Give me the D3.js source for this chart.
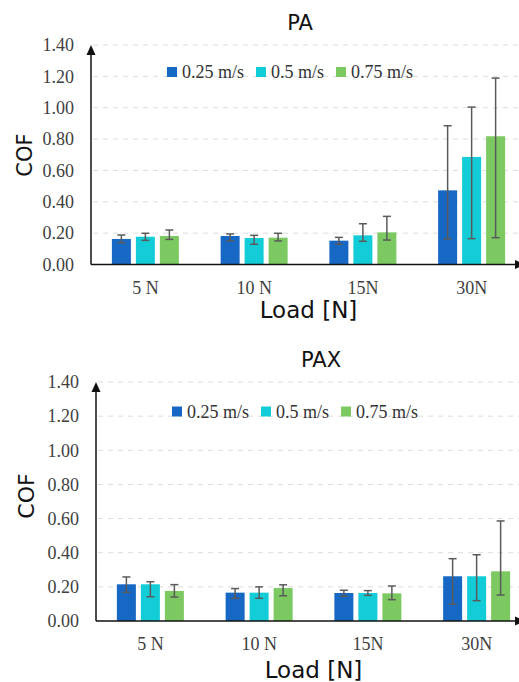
<!DOCTYPE html>
<html>
<head>
<meta charset="utf-8">
<script src="https://cdn.jsdelivr.net/npm/d3@7"></script>
<style>
  body { margin: 0; background: #fff; }
  svg { display: block; }
</style>
</head>
<body>
<div id="chart"></div>
<script>
// COF vs load, two materials (PA, PAX), three sliding speeds

const width = 519;
const height = 682;

const loads = ['5 N', '10 N', '15N', '30N'];
const speeds = ['0.25 m/s', '0.5 m/s', '0.75 m/s'];
const speedColors = ['#1768c4', '#12cdd7', '#7cc962'];
const yTicks = [0, 0.2, 0.4, 0.6, 0.8, 1.0, 1.2, 1.4];

// per load: [0.25, 0.5, 0.75 m/s]
const paMean = [
    [0.163, 0.177, 0.182],
    [0.182, 0.169, 0.171],
    [0.152, 0.186, 0.205],
    [0.473, 0.686, 0.818]
];
const paHigh = [
    [0.188, 0.199, 0.220],
    [0.195, 0.186, 0.199],
    [0.173, 0.260, 0.307],
    [0.885, 1.004, 1.189]
];
const paLow = [
    [0.139, 0.154, 0.160],
    [0.152, 0.129, 0.150],
    [0.129, 0.148, 0.156],
    [0.163, 0.165, 0.171]
];

const paxMean = [
    [0.215, 0.215, 0.176],
    [0.166, 0.166, 0.193],
    [0.164, 0.164, 0.162],
    [0.262, 0.262, 0.291]
];
const paxHigh = [
    [0.258, 0.230, 0.213],
    [0.190, 0.200, 0.212],
    [0.180, 0.178, 0.205],
    [0.365, 0.388, 0.586]
];
const paxLow = [
    [0.168, 0.142, 0.140],
    [0.133, 0.133, 0.148],
    [0.145, 0.150, 0.125],
    [0.098, 0.119, 0.152]
];

const svg = d3.select('#chart')
    .append('svg')
    .attr('width', width)
    .attr('height', height);

function drawPanel(opt) {
    const g = svg.append('g');
    const left = opt.left;

    const x = d3.scaleBand()
        .domain(loads)
        .range([left, left + 435])
        .paddingInner(0.384)
        .paddingOuter(0.192);

    const xs = d3.scaleBand()
        .domain(d3.range(speeds.length))
        .range([0, x.bandwidth()])
        .paddingInner(5 / 24)
        .paddingOuter(0);

    const y = d3.scaleLinear()
        .domain([0, 1.4])
        .range([opt.bottom, opt.top]);

    // dashed gridlines
    g.selectAll('.grid')
        .data(yTicks.filter(d => d > 0))
        .enter()
        .append('line')
        .attr('x1', left + 2)
        .attr('x2', width)
        .attr('y1', d => y(d))
        .attr('y2', d => y(d))
        .attr('stroke', '#dcdcdc')
        .attr('stroke-width', 1)
        .attr('stroke-dasharray', '5,5');

    // y tick labels
    g.selectAll('.ytick')
        .data(yTicks)
        .enter()
        .append('text')
        .attr('x', left - 17)
        .attr('y', d => y(d))
        .attr('dy', '0.35em')
        .attr('text-anchor', 'end')
        .attr('font-family', '"Liberation Serif", "Times New Roman", serif')
        .attr('font-size', '18px')
        .attr('fill', '#404040')
        .text(d => d.toFixed(2));

    // bars
    const groups = g.selectAll('.group')
        .data(loads)
        .enter()
        .append('g')
        .attr('transform', d => `translate(${x(d)},0)`);

    groups.each(function(load, li) {
        const grp = d3.select(this);
        speeds.forEach((s, si) => {
            const v = opt.mean[li][si];
            grp.append('rect')
                .attr('x', xs(si))
                .attr('width', xs.bandwidth())
                .attr('y', y(v))
                .attr('height', y(0) - y(v))
                .attr('fill', speedColors[si]);
        });
        speeds.forEach((s, si) => {
            const cx = xs(si) + xs.bandwidth() / 2;
            const hi = y(opt.high[li][si]);
            const lo = y(opt.low[li][si]);
            grp.append('line')
                .attr('x1', cx).attr('x2', cx)
                .attr('y1', hi).attr('y2', lo)
                .attr('stroke', '#5a5a5a').attr('stroke-width', 1.5);
            [hi, lo].forEach(yy => {
                grp.append('line')
                    .attr('x1', cx - 4).attr('x2', cx + 4)
                    .attr('y1', yy).attr('y2', yy)
                    .attr('stroke', '#5a5a5a').attr('stroke-width', 1.5);
            });
        });
    });

    // x tick labels
    g.selectAll('.xtick')
        .data(loads)
        .enter()
        .append('text')
        .attr('x', d => x(d) + x.bandwidth() / 2)
        .attr('y', opt.bottom + 29)
        .attr('text-anchor', 'middle')
        .attr('font-family', '"Liberation Serif", "Times New Roman", serif')
        .attr('font-size', '18px')
        .attr('fill', '#404040')
        .text(d => d);

    // axes with arrow heads
    g.append('line')
        .attr('x1', left).attr('x2', left)
        .attr('y1', opt.bottom).attr('y2', opt.top + 4)
        .attr('stroke', '#111').attr('stroke-width', 1.5);
    g.append('path')
        .attr('d', `M${left},${opt.top} L${left - 4.5},${opt.top + 10} L${left + 4.5},${opt.top + 10} Z`)
        .attr('fill', '#111');
    g.append('line')
        .attr('x1', left).attr('x2', width + 2)
        .attr('y1', opt.bottom).attr('y2', opt.bottom)
        .attr('stroke', '#111').attr('stroke-width', 1.5);
    g.append('path')
        .attr('d', `M${width + 6},${opt.bottom} L${width - 4},${opt.bottom - 4.5} L${width - 4},${opt.bottom + 4.5} Z`)
        .attr('fill', '#111');

    // legend
    const leg = g.append('g').attr('transform', `translate(${left + 76},${opt.top + opt.legendDy})`);
    let lx = 0;
    speeds.forEach((s, i) => {
        leg.append('rect')
            .attr('x', lx).attr('y', -5)
            .attr('width', 10).attr('height', 10)
            .attr('fill', speedColors[i]);
        const t = leg.append('text')
            .attr('x', lx + 15)
            .attr('y', 0)
            .attr('dy', '0.35em')
            .attr('font-family', '"Liberation Serif", "Times New Roman", serif')
            .attr('font-size', '18px')
            .attr('fill', '#333')
            .text(s);
        lx += 15 + t.node().getComputedTextLength() + 12;
    });

    // title
    g.append('text')
        .attr('x', opt.titleX)
        .attr('y', opt.titleY)
        .attr('text-anchor', 'middle')
        .attr('font-family', '"DejaVu Sans", Verdana, sans-serif')
        .attr('font-size', '21px')
        .attr('fill', '#111')
        .text(opt.title);

    // axis titles
    g.append('text')
        .attr('x', left + 435 / 2)
        .attr('y', opt.loadY)
        .attr('text-anchor', 'middle')
        .attr('font-family', '"DejaVu Sans", Verdana, sans-serif')
        .attr('font-size', '23px')
        .attr('fill', '#111')
        .text('Load [N]');

    g.append('text')
        .attr('transform', `translate(${opt.cofX},${opt.cofY}) rotate(-90)`)
        .attr('text-anchor', 'middle')
        .attr('font-family', '"DejaVu Sans", Verdana, sans-serif')
        .attr('font-size', opt.cofSize)
        .attr('fill', '#111')
        .text('COF');
}

drawPanel({
    title: 'PA', titleX: 300, titleY: 30,
    left: 91, top: 45, bottom: 264.5, legendDy: 27,
    mean: paMean, high: paHigh, low: paLow,
    loadY: 318, cofX: 32, cofY: 155, cofSize: '21px'
});

drawPanel({
    title: 'PAX', titleX: 321, titleY: 367,
    left: 96, top: 382, bottom: 621, legendDy: 29.5,
    mean: paxMean, high: paxHigh, low: paxLow,
    loadY: 678, cofX: 34, cofY: 496, cofSize: '22px'
});
</script>
</body>
</html>
